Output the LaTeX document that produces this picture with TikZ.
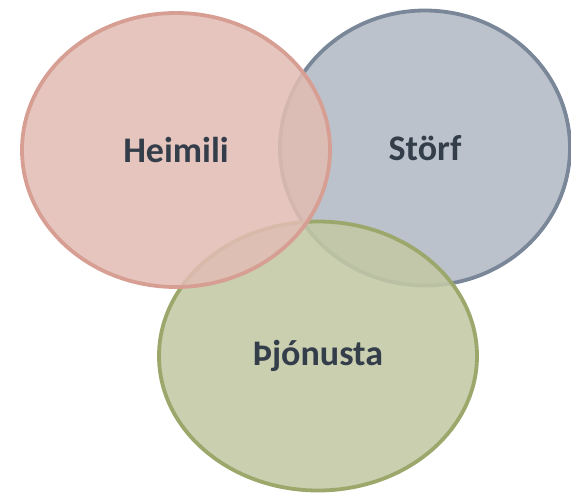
\documentclass[tikz,border=0pt]{standalone}
\usepackage{fontspec}
\setmainfont{Carlito}
\usetikzlibrary{positioning, shapes}

\definecolor{heimfill}{RGB}{225,189,180}
\definecolor{heimline}{RGB}{215,159,147}
\definecolor{storffill}{RGB}{178,186,197}
\definecolor{storfline}{RGB}{122,135,153}
\definecolor{thjonfill}{RGB}{195,200,165}
\definecolor{thjonline}{RGB}{156,168,107}
\definecolor{labelgrey}{RGB}{52,61,74}

\begin{document}
\begin{tikzpicture}[x=1pt,y=-1pt,
    setcircle/.style={ellipse, line width=3.8pt, fill opacity=0.88, text opacity=1,
      inner sep=0pt, text=labelgrey, font=\fontsize{36}{40}\selectfont\bfseries}]
\useasboundingbox (0,0) rectangle (571,496);

% blue first, then green, red on top
\node [setcircle, draw=storfline, fill=storffill,
  minimum width=290pt, minimum height=275pt] (storf) at (425,148) {Störf};
\node [setcircle, draw=thjonline, fill=thjonfill,
  minimum width=318pt, minimum height=269pt] (thjonusta) at (318,356) {Þjónusta};
\node [setcircle, draw=heimline, fill=heimfill,
  minimum width=308pt, minimum height=274pt] (heimili) at (176,150) {Heimili};
\end{tikzpicture}
\end{document}
